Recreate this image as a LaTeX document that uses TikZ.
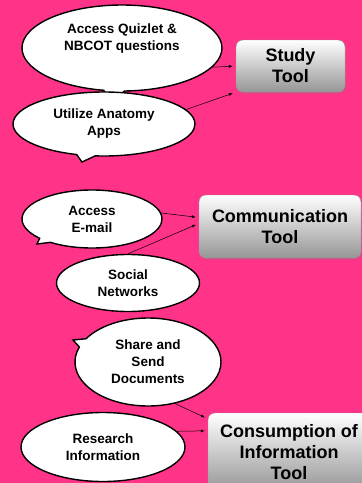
\documentclass[tikz,border=0pt]{standalone}
\usepackage{fontspec}
\setmainfont{Liberation Sans}
\usetikzlibrary{positioning, shapes.geometric, shapes.callouts, arrows.meta, calc, shadows}
\definecolor{hotpink}{RGB}{255,51,136}
\definecolor{boxgray}{RGB}{150,150,150}

\begin{document}
\begin{tikzpicture}[
        x=1pt, y=-1pt,
        every node/.style={align=center, inner sep=0pt},
        bubbletext/.style={font=\fontsize{13.5}{17}\selectfont\bfseries},
        bubble/.style={ellipse callout, callout pointer arc=12, draw=black, line width=1.4pt, fill=white, bubbletext},
        oval/.style={ellipse, draw=black, line width=1.4pt, fill=white, bubbletext},
        tool/.style={draw=gray!80, rounded corners=7pt, top color=white, bottom color=boxgray, font=\fontsize{18}{21}\selectfont\bfseries,
          drop shadow={shadow xshift=1pt, shadow yshift=-1.5pt, opacity=0.35}},
        arrow/.style={-{Latex[length=4pt,width=3pt]}, line width=0.5pt, shorten >=3pt}
      ]

    \useasboundingbox (0,0) rectangle (362,483);
    \clip (0,0) rectangle (362,483);
    \fill[hotpink] (0,0) rectangle (362,483);

    % study
    \node[bubble, minimum width=200pt, minimum height=86pt, callout absolute pointer={(112,102)},
          label={[bubbletext, yshift=9pt]center:Access Quizlet \&\\NBCOT questions}] (quizlet) at (122,48) {};
    \node[bubble, minimum width=182pt, minimum height=64pt, callout absolute pointer={(82,162)}] (anatomy) at (104,124) {Utilize Anatomy\\Apps};
    \node[tool, minimum width=109pt, minimum height=52pt] (study) at (290.5,66) {Study\\Tool};

    % communication
    \node[bubble, minimum width=140pt, minimum height=58pt, callout absolute pointer={(37,244)}] (email) at (92,219) {Access\\E-mail};
    \node[oval, minimum width=143pt, minimum height=57pt] (social) at (128,283) {Social\\Networks};
    \node[tool, minimum width=162pt, minimum height=63pt] (comm) at (280,226.5) {Communication\\Tool};

    % consumption
    \node[bubble, minimum width=146pt, minimum height=88pt, callout absolute pointer={(73,340)}] (share) at (148,362) {Share and\\Send\\Documents};
    \node[oval, minimum width=164pt, minimum height=69pt] (research) at (103,447) {Research\\Information};
    \node[tool, minimum width=162pt, minimum height=78pt] (cons) at (289,452) {Consumption of\\Information\\Tool};

    \draw[arrow] (quizlet.-12) -- (study.west);
    \draw[arrow] (anatomy.10) -- (study.south west);
    \draw[arrow] (email.5) -- ($(comm.west)+(0,-9)$);
    \draw[arrow] (social.north) -- ($(comm.west)+(0,-3)$);
    \draw[arrow] (share.-57) -- ($(cons.north west)+(0,6)$);
    \draw[arrow] (research.12) -- ($(cons.north west)+(0,18)$);

    \end{tikzpicture}
\end{document}
